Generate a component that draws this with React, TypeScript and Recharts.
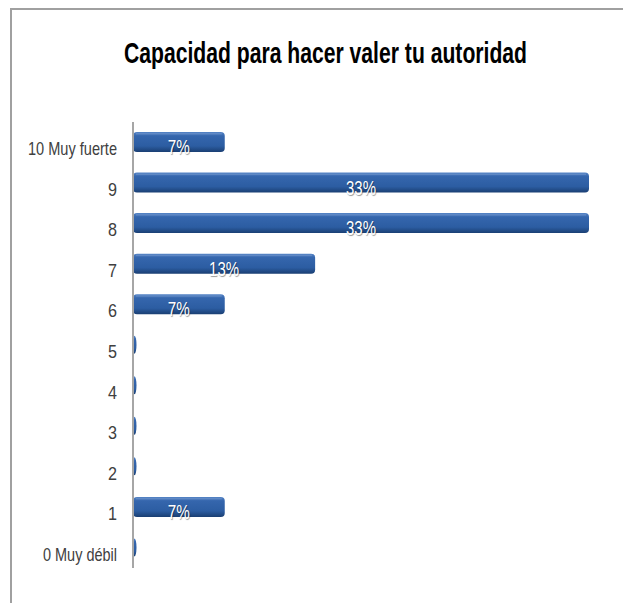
import { BarChart, Bar, XAxis, YAxis, LabelList } from 'recharts';

const categories = ['10 Muy fuerte', '9', '8', '7', '6', '5', '4', '3', '2', '1', '0 Muy débil'];
const percentages = [6.7, 33.3, 33.3, 13.3, 6.7, 0, 0, 0, 0, 6.7, 0];

const data = categories.map((name, i) => ({ name, value: percentages[i] }));

const SANS = "'Liberation Sans', Arial, sans-serif";

const longLabels: Record<string, number> = { '10 Muy fuerte': 89, '0 Muy débil': 74 };

const CategoryTick = (props: any) => {
  const { x, y, payload } = props;
  const len = longLabels[payload.value] ?? 9 * String(payload.value).length;
  return (
    <text
      x={x}
      y={y}
      dy={13}
      textAnchor="end"
      fill="#404040"
      fontSize={19}
      fontFamily={SANS}
      textLength={len}
      lengthAdjust="spacingAndGlyphs"
    >
      {payload.value}
    </text>
  );
};

const TubeBar = (props: any) => {
  const { x, y, width, height } = props;
  const cy = y + height / 2;
  if (!width || width < 3) {
    return <ellipse cx={x + 1.5} cy={cy} rx={2} ry={height / 2 - 1} fill="url(#tube)" />;
  }
  return (
    <g>
      <rect x={x} y={y} width={width} height={height} rx={4} ry={4} fill="url(#tube)" />
      <rect x={x + 3} y={y + 1} width={width - 6} height={1.5} fill="#6f95cc" opacity={0.6} />
    </g>
  );
};

const PctLabel = (props: any) => {
  const { x, y, width, height, value } = props;
  if (!value) return null;
  const txt = Math.round(value) + '%';
  return (
    <text
      x={x + width / 2}
      y={y + height / 2}
      dy={12}
      textAnchor="middle"
      fill="#ffffff"
      fontSize={20}
      fontFamily={SANS}
      textLength={8 * txt.length + 6}
      lengthAdjust="spacingAndGlyphs"
      style={{ textShadow: '1px 1px 1px rgba(0,0,0,0.4)' }}
    >
      {txt}
    </text>
  );
};

// title glyphs are squeezed horizontally in the original
const TITLE_SQUEEZE = 0.72;

const App = () => {
  return (
    <div style={{ position: 'relative', width: 623, height: 595, background: '#fff' }}>
      <div
        style={{
          position: 'absolute',
          left: 2,
          top: 0,
          width: 621,
          height: 595,
          borderTop: '2px solid #a0a0a0',
          borderLeft: '2px solid #a0a0a0',
          boxSizing: 'border-box',
        }}
      />
      <svg width={623} height={100} style={{ position: 'absolute', left: 0, top: 0 }}>
        <g transform={`scale(${TITLE_SQUEEZE},1)`}>
          <text
            x={116 / TITLE_SQUEEZE}
            y={55}
            fontSize={29}
            fontWeight="bold"
            fill="#000"
            fontFamily={SANS}
            textLength={403 / TITLE_SQUEEZE}
            lengthAdjust="spacingAndGlyphs"
          >
            Capacidad para hacer valer tu autoridad
          </text>
        </g>
      </svg>
      <div style={{ position: 'absolute', left: 0, top: 0 }}>
        <BarChart
          width={623}
          height={595}
          data={data}
          layout="vertical"
          margin={{ top: 114, right: 42, bottom: 35, left: 0 }}
          barSize={20}
        >
          <defs>
            <linearGradient id="tube" x1="0" y1="0" x2="0" y2="1">
              <stop offset="0%" stopColor="#5584c6" />
              <stop offset="20%" stopColor="#3566ad" />
              <stop offset="70%" stopColor="#2c5da2" />
              <stop offset="100%" stopColor="#1a3f73" />
            </linearGradient>
          </defs>
          <XAxis type="number" hide domain={[0, 'dataMax']} />
          <YAxis
            type="category"
            dataKey="name"
            width={125}
            tickLine={false}
            tickSize={0}
            tickMargin={16}
            axisLine={{ stroke: '#a6a6a6', strokeWidth: 2 }}
            tick={<CategoryTick />}
            interval={0}
          />
          <Bar dataKey="value" shape={<TubeBar />} isAnimationActive={false}>
            <LabelList dataKey="value" content={<PctLabel />} />
          </Bar>
        </BarChart>
      </div>
    </div>
  );
};

export default App;
